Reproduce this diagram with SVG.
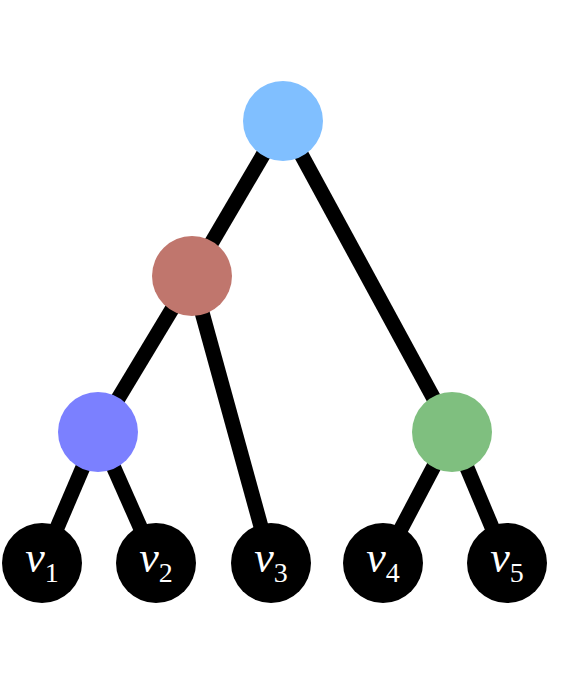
<svg xmlns="http://www.w3.org/2000/svg" width="571" height="686" viewBox="0 0 571 686">
<style>
.e{stroke:#000;stroke-width:15;fill:none}
.leaf{fill:#000}
.lbl{font-size:44px;font-style:italic;fill:#fff;text-anchor:middle}
.sub{font-style:normal;font-size:28px}
</style>
<rect width="571" height="686" fill="#fff"/>
<g id="edges">
<line class="e" x1="283" y1="121" x2="192" y2="276"/>
<line class="e" x1="283" y1="121" x2="452" y2="432"/>
<line class="e" x1="192" y1="276" x2="98" y2="432"/>
<line class="e" x1="192" y1="276" x2="271" y2="563"/>
<line class="e" x1="98" y1="432" x2="42" y2="563"/>
<line class="e" x1="98" y1="432" x2="156" y2="563"/>
<line class="e" x1="452" y1="432" x2="383" y2="563"/>
<line class="e" x1="452" y1="432" x2="507" y2="563"/>
</g>
<g id="root"><circle cx="283" cy="121" r="40" fill="#80BFFF"/></g>
<g id="n_red"><circle cx="192" cy="276" r="40" fill="#C0766D"/></g>
<g id="n_blue"><circle cx="98" cy="432" r="40" fill="#7B80FF"/></g>
<g id="n_green"><circle cx="452" cy="432" r="40" fill="#7FBF7F"/></g>
<g font-family="Liberation Serif, Times New Roman, serif">
<g id="v1"><circle class="leaf" cx="42" cy="563" r="40"/><text class="lbl" x="42" y="572">v<tspan class="sub" dy="10">1</tspan></text></g>
<g id="v2"><circle class="leaf" cx="156" cy="563" r="40"/><text class="lbl" x="156" y="572">v<tspan class="sub" dy="10">2</tspan></text></g>
<g id="v3"><circle class="leaf" cx="271" cy="563" r="40"/><text class="lbl" x="271" y="572">v<tspan class="sub" dy="10">3</tspan></text></g>
<g id="v4"><circle class="leaf" cx="383" cy="563" r="40"/><text class="lbl" x="383" y="572">v<tspan class="sub" dy="10">4</tspan></text></g>
<g id="v5"><circle class="leaf" cx="507" cy="563" r="40"/><text class="lbl" x="507" y="572">v<tspan class="sub" dy="10">5</tspan></text></g>
</g>
</svg>
